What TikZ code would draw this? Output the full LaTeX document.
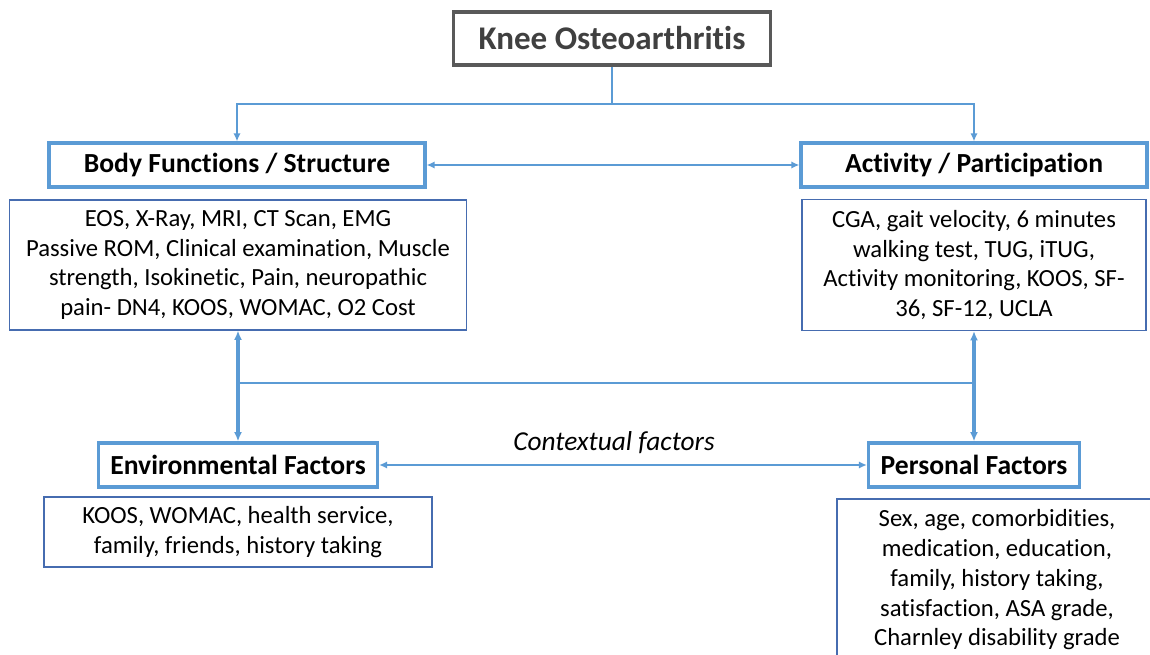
\documentclass[tikz,border=0pt]{standalone}
\usepackage{fontspec}
\setmainfont{Carlito}[Ligatures=NoCommon]
\usetikzlibrary{arrows.meta}
\definecolor{boxblue}{RGB}{91,155,213}
\definecolor{txtblue}{RGB}{70,108,176}
\definecolor{headgray}{RGB}{89,89,89}
\definecolor{headtext}{RGB}{64,64,64}

\begin{document}
\begin{tikzpicture}[x=0.75pt,y=-0.75pt]

\tikzstyle{headbox}=[rectangle,draw=headgray,line width=2.4pt,fill=white,text=headtext,font=\fontsize{24.8}{29}\selectfont\bfseries,minimum width=237.75pt,minimum height=39.75pt]
\tikzstyle{areabox}=[rectangle,draw=boxblue,line width=2.4pt,fill=white,font=\fontsize{20.7}{25}\selectfont\bfseries,minimum height=33pt]
\tikzstyle{measures}=[rectangle,draw=txtblue,line width=0.8pt,fill=white,align=center,font=\fontsize{18.5}{22.3}\selectfont]
\tikzstyle{link}=[draw=boxblue,line width=1.6pt,-{Latex[length=6pt,width=5.5pt]}]
\tikzstyle{link2}=[draw=boxblue,line width=2.3pt,{Latex[length=7pt,width=6pt]}-{Latex[length=7pt,width=6pt]}]

\useasboundingbox (0,0) rectangle (1150,655);
\clip (0,0) rectangle (1150,655);

\node[headbox] (knee) at (612,38.5) {Knee Osteoarthritis};

\node[areabox,minimum width=282pt] (body) at (237,165) {Body Functions / Structure};
\node[areabox,minimum width=259.5pt] (activity) at (974,165) {Activity / Participation};
\node[areabox,minimum width=209.25pt] (env) at (238,465) {Environmental Factors};
\node[areabox,minimum width=158.25pt] (personal) at (974,465) {Personal Factors};

\node[measures,minimum width=342.75pt,minimum height=97.5pt] (bodytxt) at (238,265) {EOS, X-Ray, MRI, CT Scan, EMG\\Passive ROM, Clinical examination, Muscle\\strength, Isokinetic, Pain, neuropathic\\pain- DN4, KOOS, WOMAC, O2 Cost};
\node[measures,minimum width=258pt,minimum height=98.25pt] (acttxt) at (974,265) {CGA, gait velocity, 6 minutes\\walking test, TUG, iTUG,\\Activity monitoring, KOOS, SF-\\36, SF-12, UCLA};
\node[measures,minimum width=291pt,minimum height=52.5pt] (envtxt) at (238,532) {KOOS, WOMAC, health service,\\family, friends, history taking};
\node[measures,minimum width=240pt,minimum height=121.5pt] (perstxt) at (997,580) {Sex, age, comorbidities,\\medication, education,\\family, history taking,\\satisfaction, ASA grade,\\Charnley disability grade};

\coordinate (split) at (612,104);
\coordinate (lmid) at (238,383);
\coordinate (rmid) at (974,383);

\draw[draw=boxblue,line width=1.6pt] (knee.south) -- (split);
\draw[link] (split) -| (body.north);
\draw[link] (split) -| (activity.north);
\draw[link,{Latex[length=6pt,width=5.5pt]}-{Latex[length=6pt,width=5.5pt]}] (body) -- (activity);
\draw[link2] (bodytxt.south) -- (env.north);
\draw[link2] (acttxt.south) -- (personal.north);
\draw[draw=boxblue,line width=1.6pt] (lmid) -- (rmid);
\draw[link,{Latex[length=6pt,width=5.5pt]}-{Latex[length=6pt,width=5.5pt]}] (env) -- (personal);
\node[font=\fontsize{20.5}{24}\selectfont\itshape] (context) at (614,443) {Contextual factors};

\end{tikzpicture}
\end{document}
